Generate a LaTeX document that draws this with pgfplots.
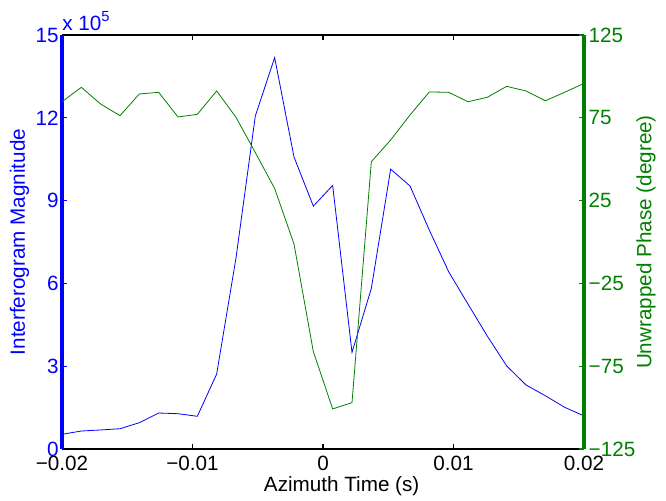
\documentclass[border=0pt]{standalone}
\usepackage{pgfplots}
\pgfplotsset{compat=1.18}
\usepackage{fontspec}
\setmainfont{Liberation Sans}
\definecolor{mblue}{RGB}{0,0,255}
\definecolor{mgreen}{RGB}{0,128,0}

% 28 samples over the azimuth window; magnitude in units of 1e5, phase in degrees
\pgfplotstableread{
t         mag     phase
-0.020000 0.533  84.7
-0.018519 0.652  93.4
-0.017037 0.690  83.3
-0.015556 0.735  76.3
-0.014074 0.953  89.4
-0.012593 1.304  90.4
-0.011111 1.279  75.5
-0.009630 1.185  77.1
-0.008148 2.717  91.2
-0.006667 6.920  75.3
-0.005185 12.07  54.0
-0.003704 14.18  32.3
-0.002222 10.58  -1.2
-0.000741 8.800 -66.2
 0.000741 9.550 -100.8
 0.002222 3.500 -97.0
 0.003704 5.820  48.5
 0.005185 10.14  61.6
 0.006667 9.530  76.7
 0.008148 7.930  90.6
 0.009630 6.420  90.4
 0.011111 5.250  84.7
 0.012593 4.090  87.4
 0.014074 3.010  94.0
 0.015556 2.320  91.2
 0.017037 1.930  85.3
 0.018519 1.510  90.4
 0.020000 1.200  95.8
}\datatab

\begin{document}
\begin{tikzpicture}
\pgfplotsset{
  every axis/.append style={
    scale only axis, width=391.5pt, height=310.5pt,
    xmin=-0.02, xmax=0.02,
    font=\fontsize{15.5}{18}\selectfont,
    tick align=inside, major tick length=4pt,
    tick style={line width=1pt},
  },
}
\begin{axis}[name=ax,
  axis x line*=box, axis y line*=left,
  ymin=0, ymax=15, ytick={0,3,6,9,12,15},
  yticklabels={0,3,6,9,12,15},
  xtick={-0.02,-0.01,0,0.01,0.02},
  xticklabels={−0.02,−0.01,0,0.01,0.02},
  scaled x ticks=false,
  x axis line style={black,line width=1.8pt},
  y axis line style={mblue,line width=2.4pt},
  yticklabel style={text=mblue, xshift=1pt},
  xticklabel style={yshift=-1.5pt},
  ytick style={mblue},
  xtick style={black},
  xtick pos=both,
  xlabel={Azimuth Time (s)},
  ylabel={Interferogram Magnitude},
  ylabel style={text=mblue, yshift=-2pt},
  xlabel style={yshift=2.5pt, xshift=14pt},
  clip=false]
\addplot[mblue, line width=0.6pt] table[x=t,y=mag] {\datatab};
\node[anchor=south west, text=mblue, inner sep=0pt] at ([yshift=3pt]rel axis cs:0,1) {x 10\raisebox{0.45em}{\fontsize{11}{12}\selectfont 5}};
\end{axis}
\begin{axis}[
  axis x line=none, axis y line*=right,
  ymin=-125, ymax=125, ytick={-125,-75,-25,25,75,125},
  yticklabels={−125,−75,−25,25,75,125},
  y axis line style={mgreen,line width=2.4pt},
  yticklabel style={text=mgreen},
  ytick style={mgreen},
  ylabel={Unwrapped Phase (degree)},
  ylabel style={text=mgreen, yshift=6pt},
  ]
\addplot[mgreen, line width=0.6pt] table[x=t,y=phase] {\datatab};
\end{axis}
\path ([xshift=-46.5pt,yshift=-38.25pt]ax.south west) rectangle ([xshift=61.5pt,yshift=26.25pt]ax.north east);
\end{tikzpicture}
\end{document}
